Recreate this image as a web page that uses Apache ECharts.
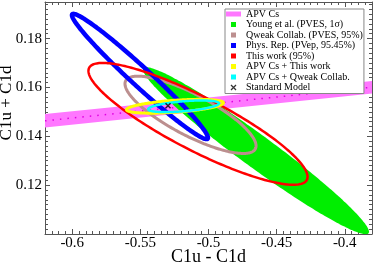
<!DOCTYPE html>
<html><head><meta charset="utf-8">
<script src="https://cdn.jsdelivr.net/npm/echarts@6/dist/echarts.min.js"></script>
<style>html,body{margin:0;padding:0;background:#fff}#c{width:374px;height:263px}</style>
</head><body><div id="c"></div>
<script>
// ---- axes ----
const xMin = -0.62, xMax = -0.38;
const yMin = 0.10, yMax = 0.195;
const xMajorTicks = [-0.6, -0.55, -0.5, -0.45, -0.4];
const yMajorTicks = [0.12, 0.14, 0.16, 0.18];
const xMinorStep = 0.005;
const yMinorStep = 0.002;
const xName = 'C1u - C1d';
const yName = 'C1u + C1d';

// ---- APV Cs band (straight band: x ends, lower and upper edge) ----
const bandName = 'APV Cs';
const bandX = [-0.62, -0.38];
const bandLow = [0.1436, 0.1575];
const bandHigh = [0.1491, 0.1627];

// ---- ellipses: centre, rightmost point, vertical half-chord through centre ----
const ellipseNames = ['Young et al. (PVES, 1σ)', 'Qweak Collab. (PVES, 95%)', 'Phys. Rep. (PVep, 95.45%)',
  'This work (95%)', 'APV Cs + This work', 'APV Cs + Qweak Collab.'];
const centerX = [-0.4651, -0.5132, -0.5503, -0.5077, -0.5246, -0.5183];
const centerY = [0.1341, 0.1488, 0.1645, 0.1451, 0.1523, 0.1523];
const rightX = [-0.3822, -0.4651, -0.5004, -0.4273, -0.4890, -0.4923];
const rightY = [0.1009, 0.1361, 0.1394, 0.1234, 0.1537, 0.1535];
const halfHeight = [0.0082, 0.00943, 0.00525, 0.0123, 0.00246, 0.00205];

// ---- Standard Model point ----
const smName = 'Standard Model';
const smX = [-0.5297];
const smY = [0.1525];

// ---- styles ----
const FONT = 'Liberation Serif';
const AXIS_COLOR = '#555';
const bandColor = '#ff77ff';
const bandDotColor = '#e000e0';
const ellipseColors = ['#00ee00', '#bc8f8f', '#0000ff', '#ff0000', '#ffff00', '#00ffff'];
const ellipseFilled = [true, false, false, false, false, false];
const ellipseWidths = [0, 3, 4.5, 2.5, 3, 2.5];

function ellipseRender(i) {
  return function (params, api) {
    const cx = api.value(0), cy = api.value(1);
    const px = api.value(2) - cx, py = api.value(3) - cy, h = api.value(4);
    const pts = [];
    const N = 240;
    for (let k = 0; k < N; k++) {
      const t = 2 * Math.PI * k / N;
      pts.push(api.coord([cx + px * Math.cos(t), cy + py * Math.cos(t) + h * Math.sin(t)]));
    }
    const style = ellipseFilled[i]
      ? { fill: ellipseColors[i], stroke: null }
      : { fill: 'none', stroke: ellipseColors[i], lineWidth: ellipseWidths[i] };
    return { type: 'polygon', shape: { points: pts }, style: style };
  };
}

function bandRender(params, api) {
  const x0 = api.value(0), lo0 = api.value(1), hi0 = api.value(2);
  const x1 = api.value(3), lo1 = api.value(4), hi1 = api.value(5);
  const a = api.coord([x0, lo0]), b = api.coord([x1, lo1]), c = api.coord([x1, hi1]), d = api.coord([x0, hi0]);
  const m0 = api.coord([x0, (lo0 + hi0) / 2]), m1 = api.coord([x1, (lo1 + hi1) / 2]);
  return {
    type: 'group', children: [
      { type: 'polygon', shape: { points: [a, b, c, d] }, style: { fill: bandColor, stroke: null } },
      { type: 'line', shape: { x1: m0[0], y1: m0[1], x2: m1[0], y2: m1[1] },
        style: { stroke: bandDotColor, lineWidth: 1.5, lineDash: [1.5, 6], fill: null } }
    ]
  };
}

const series = [];
series.push({
  name: bandName, type: 'custom', coordinateSystem: 'cartesian2d', xAxisIndex: 0, yAxisIndex: 0,
  clip: true, itemStyle: { color: bandColor },
  encode: { x: [0, 3], y: [1, 2, 4, 5] },
  data: [[bandX[0], bandLow[0], bandHigh[0], bandX[1], bandLow[1], bandHigh[1]]],
  renderItem: bandRender, silent: true
});
ellipseNames.forEach(function (n, i) {
  series.push({
    name: n, type: 'custom', coordinateSystem: 'cartesian2d', xAxisIndex: 0, yAxisIndex: 0,
    clip: true, itemStyle: { color: ellipseColors[i] },
    encode: { x: [0, 2], y: [1, 3] },
    data: [[centerX[i], centerY[i], rightX[i], rightY[i], halfHeight[i]]],
    renderItem: ellipseRender(i), silent: true
  });
});
const xMarker = 'path://M0 0L10 10M10 0L0 10';
series.push({
  name: smName, type: 'scatter', xAxisIndex: 0, yAxisIndex: 0,
  symbol: xMarker, symbolSize: 5,
  itemStyle: { color: 'none', borderColor: '#000', borderWidth: 1.5 },
  data: smX.map(function (x, i) { return [x, smY[i]]; }), silent: true
});

const square = 'path://M0 0H10V10H0Z';
const legendData = [{ name: bandName, icon: 'rect', itemStyle: { color: bandColor } }]
  .concat(ellipseNames.map(function (n, i) { return { name: n, icon: square, itemStyle: { color: ellipseColors[i], borderWidth: 0 } }; }))
  .concat([{ name: smName, icon: xMarker, itemStyle: { color: 'none', borderColor: '#000', borderWidth: 1.3 } }]);

const lineStyle = { color: AXIS_COLOR, width: 1 };
function majorX(pos, withLabel) {
  return {
    gridIndex: 0, type: 'value', position: pos, min: xMin, max: xMax,
    axisLine: { show: true, onZero: false, lineStyle: lineStyle },
    axisTick: { show: true, inside: true, length: 5, customValues: xMajorTicks, lineStyle: lineStyle },
    axisLabel: { show: withLabel, customValues: xMajorTicks, fontFamily: FONT, fontSize: 15, color: '#000', margin: 2 },
    splitLine: { show: false },
    name: withLabel ? xName : '', nameLocation: 'middle', nameGap: 14, nameMoveOverlap: false,
    nameTextStyle: { fontFamily: FONT, fontSize: 18, color: '#000' }
  };
}
function minorX(pos) {
  return {
    gridIndex: 1, type: 'value', position: pos, min: xMin, max: xMax, interval: xMinorStep,
    axisLine: { show: false, onZero: false },
    axisTick: { show: true, inside: true, length: 3, lineStyle: lineStyle },
    axisLabel: { show: false }, splitLine: { show: false }
  };
}
function majorY(pos, withLabel) {
  return {
    gridIndex: 0, type: 'value', position: pos, min: yMin, max: yMax,
    axisLine: { show: true, onZero: false, lineStyle: lineStyle },
    axisTick: { show: true, inside: true, length: 5, customValues: yMajorTicks, lineStyle: lineStyle },
    axisLabel: { show: withLabel, customValues: yMajorTicks, fontFamily: FONT, fontSize: 15, color: '#000', margin: 3,
      formatter: function (v) { return v.toFixed(2); } },
    splitLine: { show: false },
    name: withLabel ? yName : '', nameLocation: 'middle', nameGap: 30, nameRotate: 90, nameMoveOverlap: false,
    nameTextStyle: { fontFamily: FONT, fontSize: 17, color: '#000', padding: [0, 0, 0, 30] }
  };
}
function minorY(pos) {
  return {
    gridIndex: 1, type: 'value', position: pos, min: yMin, max: yMax, interval: yMinorStep,
    axisLine: { show: false, onZero: false },
    axisTick: { show: true, inside: true, length: 3, lineStyle: lineStyle },
    axisLabel: { show: false }, splitLine: { show: false }
  };
}

const gridRect = { left: 45, right: 2, top: 2, bottom: 29, containLabel: false, outerBoundsMode: 'none' };
const option = {
  animation: false,
  backgroundColor: '#fff',
  grid: [Object.assign({}, gridRect), Object.assign({}, gridRect)],
  xAxis: [majorX('bottom', true), majorX('top', false), minorX('bottom'), minorX('top')],
  yAxis: [majorY('left', true), majorY('right', false), minorY('left'), minorY('right')],
  legend: {
    orient: 'vertical', left: 225, top: 9, itemWidth: 15, itemHeight: 5, itemGap: 0.5,
    padding: [0, 1, 1, 1], backgroundColor: '#fff', borderColor: '#888', borderWidth: 1,
    selectedMode: false,
    textStyle: { fontFamily: FONT, fontSize: 10, lineHeight: 10, color: '#000' },
    data: legendData
  },
  series: series
};
const chart = echarts.init(document.getElementById('c'), null, { renderer: 'canvas' });
chart.setOption(option);
</script></body></html>
